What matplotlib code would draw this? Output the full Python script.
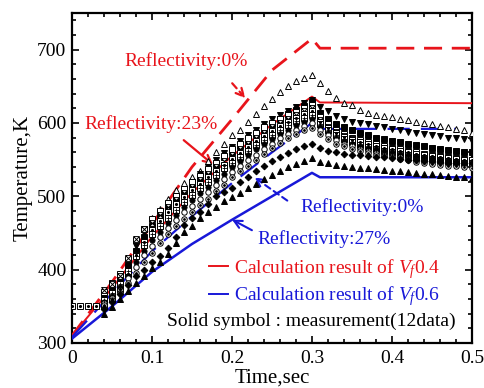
import matplotlib
matplotlib.use("Agg")
import matplotlib.pyplot as plt
from matplotlib.lines import Line2D

plt.rcParams['font.family'] = ['Liberation Serif', 'DejaVu Serif']
plt.rcParams['mathtext.fontset'] = 'custom'
plt.rcParams['mathtext.rm'] = 'Liberation Serif'
plt.rcParams['mathtext.it'] = 'Liberation Serif:italic'

# ---------------- calculation lines ----------------
t_line = [0.0, 0.05, 0.10, 0.15, 0.20, 0.25, 0.30, 0.31, 0.50]
red_dashed = [310, 383, 462, 540, 605, 672, 715, 702, 702]     # Vf0.4, reflectivity 0%
red_solid = [310, 375, 445, 505, 555, 598, 636, 628, 627]      # Vf0.4, reflectivity 23%
t_line_bd = [0.0, 0.05, 0.10, 0.15, 0.20, 0.25, 0.30, 0.31, 0.48]
blue_dashed = [308, 368, 425, 473, 518, 560, 600, 592, 592]    # Vf0.6, reflectivity 0%
blue_solid = [306, 350, 397, 435, 468, 500, 532, 526, 526]     # Vf0.6, reflectivity 27%

# ---------------- measurements (12 data) ----------------
t_meas = [0.04, 0.05, 0.06, 0.07, 0.08, 0.09, 0.10, 0.11, 0.12, 0.13, 0.14,
          0.15, 0.16, 0.17, 0.18, 0.19, 0.20, 0.21, 0.22, 0.23, 0.24, 0.25,
          0.26, 0.27, 0.28, 0.29, 0.30, 0.31, 0.32, 0.33, 0.34, 0.35, 0.36,
          0.37, 0.38, 0.39, 0.40, 0.41, 0.42, 0.43, 0.44, 0.45, 0.46, 0.47,
          0.48, 0.49, 0.50]
t_meas_sq = [0.00, 0.01, 0.02, 0.03] + t_meas

m_open_tri = [372, 380, 392, 415, 440, 456, 470, 483, 497, 508, 518, 526, 534, 548, 561, 572,
              583, 591, 601, 612, 623, 633, 642, 651, 657, 661, 666,
              655, 643, 634, 627, 624, 618, 614, 611, 609, 608, 606, 604, 602, 600, 598, 596,
              594, 592, 590, 587]
m_inv_tri = [366, 378, 390, 410, 432, 450, 466, 478, 489, 500, 510, 520, 530, 540, 550, 559,
             567, 575, 583, 591, 598, 605, 611, 617, 622, 627, 632,
             622, 616, 609, 605, 602, 600, 598, 596, 594, 592, 590, 588, 587, 585, 583, 582,
             580, 579, 578, 576]
m_fill_sq = [362, 374, 386, 405, 426, 444, 460, 472, 484, 495, 505, 515, 525, 535, 544, 553,
             561, 569, 577, 585, 592, 599, 606, 612, 618, 623, 628,
             614, 606, 599, 594, 590, 586, 583, 580, 578, 576, 574, 572, 570, 568, 566, 565,
             563, 562, 561, 560]
m_open_sq = [370, 382, 394, 414, 440, 455, 469, 480, 491, 501, 510, 519, 528, 537, 546, 555,
             564, 572, 580, 587, 594, 600, 606, 611, 615, 620, 624,
             608, 598, 590, 585, 580, 577, 574, 571, 568, 566, 564, 562, 560, 558, 556, 555,
             553, 552, 551, 549]
m_hourglass = [372, 380, 392, 416, 442, 456, 464, 475, 486, 495, 504, 513, 522, 531, 540, 548,
               556, 564, 572, 580, 587, 594, 600, 606, 611, 616, 620,
               604, 595, 588, 582, 578, 574, 571, 568, 566, 564, 561, 559, 557, 555, 553, 552,
               550, 549, 548, 546]
m_dot_sq = [350, 350, 350, 350, 350, 360, 374, 394, 420, 438, 454, 466, 478, 489, 499, 508,
            517, 526, 535, 543, 551, 559, 567, 575, 582, 589, 596, 602, 607, 612, 616,
            602, 593, 586, 581, 577, 574, 571, 568, 566, 564, 562, 560, 558, 556, 555, 553,
            552, 551, 550, 549]
m_cross_sq = [358, 368, 380, 398, 418, 434, 448, 460, 471, 482, 492, 502, 511, 520, 529, 538,
              546, 554, 562, 570, 577, 584, 591, 597, 603, 607, 611,
              598, 590, 583, 578, 574, 570, 567, 564, 562, 560, 558, 556, 554, 552, 551, 549,
              548, 547, 546, 545]
m_fill_circ = [356, 364, 376, 392, 410, 426, 440, 452, 464, 475, 485, 495, 504, 513, 522, 531,
               540, 548, 556, 564, 571, 578, 585, 591, 597, 602, 606,
               594, 586, 580, 576, 572, 569, 566, 564, 562, 560, 558, 556, 555, 553, 552, 551,
               549, 548, 547, 546]
m_open_circ = [354, 362, 372, 388, 404, 420, 432, 445, 457, 468, 478, 487, 496, 506, 515, 524,
               533, 541, 549, 557, 565, 572, 579, 585, 591, 596, 600,
               590, 583, 577, 572, 568, 565, 562, 559, 557, 555, 553, 551, 549, 548, 546, 545,
               544, 543, 542, 541]
m_dot_circ = [352, 358, 368, 382, 396, 410, 423, 436, 448, 459, 469, 478, 488, 497, 507, 516,
              526, 534, 542, 550, 558, 566, 573, 580, 585, 590, 593,
              585, 578, 572, 568, 565, 562, 559, 557, 555, 553, 551, 549, 547, 546, 544, 543,
              542, 541, 540, 539]
m_fill_dia = [346, 356, 367, 379, 391, 400, 411, 418, 429, 445, 461, 470, 479, 490, 500, 506,
              512, 519, 527, 534, 541, 548, 554, 559, 564, 568, 572,
              566, 562, 560, 558, 557, 556, 555, 554, 553, 552, 551, 550, 549, 548, 548, 547,
              546, 546, 545, 545]
m_fill_tri = [340, 349, 360, 371, 382, 392, 402, 410, 421, 436, 451, 460, 470, 478, 486, 493,
              499, 505, 511, 517, 523, 529, 535, 540, 544, 548, 552,
              547, 545, 543, 541, 540, 539, 538, 537, 536, 535, 534, 533, 532, 531, 530, 529,
              528, 527, 526, 525]

fig = plt.figure(figsize=(4.85, 3.88), dpi=100)
ax = fig.add_axes([0.1485, 0.116, 0.8245, 0.8505])

# lines
ax.plot(t_line, red_dashed, color='#e8141b', lw=2.0, dashes=(6.5, 3.5), zorder=3)
ax.plot(t_line, red_solid, color='#e8141b', lw=1.4, zorder=3)
ax.plot(t_line_bd, blue_dashed, color='#1818d8', lw=1.6, dashes=(10, 5), zorder=3)
ax.plot(t_line, blue_solid, color='#1818d8', lw=1.8, zorder=3)

ms = 4.2
mew = 0.7
hourglass = [(-1, 1), (1, 1), (-1, -1), (1, -1), (-1, 1)]
kw_open = dict(ls='none', mfc='white', mec='black', mew=mew, zorder=4)
kw_fill = dict(ls='none', mfc='black', mec='black', mew=mew, zorder=4)

ax.plot(t_meas, m_open_tri, marker='^', ms=ms, **kw_open)
ax.plot(t_meas, m_inv_tri, marker='v', ms=ms, **kw_fill)
ax.plot(t_meas, m_fill_sq, marker='s', ms=ms - 0.5, **kw_fill)
ax.plot(t_meas, m_open_sq, marker='s', ms=ms - 0.3, **kw_open)
ax.plot(t_meas, m_hourglass, marker=hourglass, ms=ms, **kw_open)
ax.plot(t_meas_sq, m_dot_sq, marker='s', ms=ms - 0.3, **kw_open)
ax.plot(t_meas_sq, m_dot_sq, marker='.', ms=2.5, ls='none', color='black', zorder=5)
ax.plot(t_meas, m_cross_sq, marker='s', ms=ms - 0.3, **kw_open)
ax.plot(t_meas, m_cross_sq, marker='+', ms=ms - 0.6, ls='none', color='black', mew=0.6, zorder=5)
ax.plot(t_meas, m_fill_circ, marker='o', ms=ms - 0.5, **kw_fill)
ax.plot(t_meas, m_open_circ, marker='o', ms=ms - 0.3, **kw_open)
ax.plot(t_meas, m_dot_circ, marker='o', ms=ms - 0.3, **kw_open)
ax.plot(t_meas, m_dot_circ, marker='.', ms=2.0, ls='none', color='black', zorder=5)
ax.plot(t_meas, m_fill_dia, marker='D', ms=ms - 0.8, **kw_fill)
ax.plot(t_meas, m_fill_tri, marker='^', ms=ms, **kw_fill)

# axes
ax.set_xlim(0, 0.5)
ax.set_ylim(300, 750)
ax.set_xticks([0, 0.1, 0.2, 0.3, 0.4, 0.5])
ax.set_xticklabels(['0', '0.1', '0.2', '0.3', '0.4', '0.5'])
ax.set_yticks([300, 400, 500, 600, 700])
ax.set_xticks([i * 0.02 for i in range(26)], minor=True)
ax.set_yticks([300 + 20 * i for i in range(23)], minor=True)
ax.tick_params(which='both', direction='in', top=True, right=True, labelsize=14, width=1.2)
ax.tick_params(which='major', length=5)
ax.tick_params(which='minor', length=2.8)
ax.tick_params(axis='x', pad=5)
ax.tick_params(axis='y', pad=4)
for s in ax.spines.values():
    s.set_linewidth(1.6)

ax.set_xlabel('Time,sec', fontsize=15, labelpad=1)
ax.set_ylabel('Temperature,K', fontsize=15, labelpad=3)

red = '#e8141b'
blue = '#1818d8'
fs = 14
ax.text(0.066, 684, 'Reflectivity:0%', color=red, fontsize=fs, ha='left', va='center')
ax.annotate('', xy=(0.219, 631), xytext=(0.198, 657),
            arrowprops=dict(arrowstyle='->', color=red, lw=1.6, ls=(0, (3, 2)),
                            mutation_scale=14))
ax.text(0.016, 598, 'Reflectivity:23%', color=red, fontsize=fs, ha='left', va='center')
ax.annotate('', xy=(0.179, 541), xytext=(0.137, 579),
            arrowprops=dict(arrowstyle='->', color=red, lw=1.6, mutation_scale=14))
ax.text(0.285, 486, 'Reflectivity:0%', color=blue, fontsize=fs, ha='left', va='center')
ax.annotate('', xy=(0.225, 528), xytext=(0.272, 492),
            arrowprops=dict(arrowstyle='->', color=blue, lw=1.5, ls=(0, (3, 2)),
                            mutation_scale=14))
ax.text(0.232, 442, 'Reflectivity:27%', color=blue, fontsize=fs, ha='left', va='center')
ax.annotate('', xy=(0.197, 470), xytext=(0.228, 452),
            arrowprops=dict(arrowstyle='->', color=blue, lw=1.5, mutation_scale=14))

ax.text(0.119, 329, 'Solid symbol : measurement(12data)', color='black', fontsize=fs,
        ha='left', va='center')

handles = [Line2D([], [], color=red, lw=1.4), Line2D([], [], color=blue, lw=1.4)]
leg = ax.legend(handles, ['Calculation result of $V_f$0.4', 'Calculation result of $V_f$0.6'],
                loc='lower left', bbox_to_anchor=(0.342, 0.105), frameon=False,
                fontsize=fs, handlelength=1.0, handletextpad=0.3, borderpad=0,
                borderaxespad=0, labelspacing=0.2)
for txt, c in zip(leg.get_texts(), [red, blue]):
    txt.set_color(c)

fig.savefig('out.png', dpi=100)
